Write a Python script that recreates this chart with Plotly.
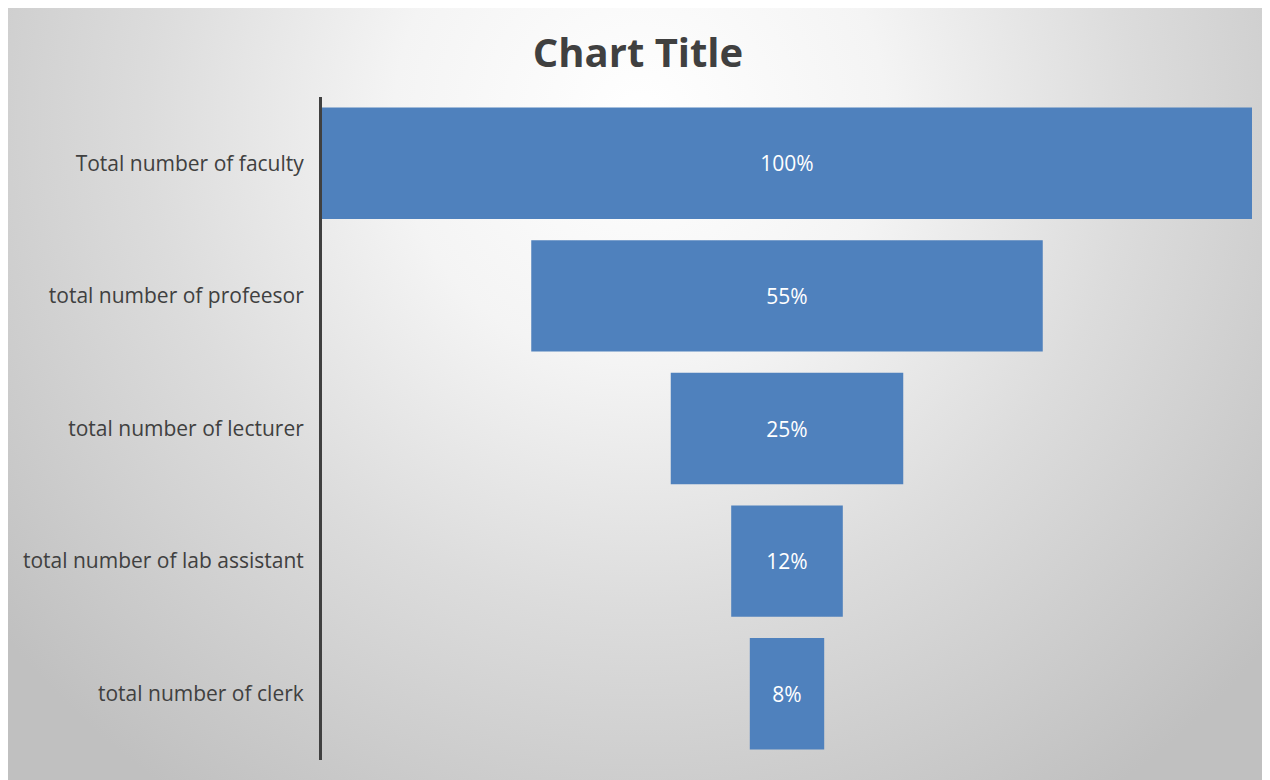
import base64
import plotly.graph_objects as go

categories = [
    "Total number of faculty",
    "total number of profeesor",
    "total number of lecturer",
    "total number of lab assistant",
    "total number of clerk",
]
values = [100, 55, 25, 12, 8]
labels = ["100%", "55%", "25%", "12%", "8%"]

W, H = 1270, 780
ml, mr, mt, mb = 314, 26, 89, 28
pw, ph = W - ml - mr, H - mt - mb

svg = f'''<svg xmlns="http://www.w3.org/2000/svg" width="{W}" height="{H}">
<defs><radialGradient id="g" gradientUnits="userSpaceOnUse" cx="632" cy="110" r="820">
<stop offset="0" stop-color="#ffffff"/>
<stop offset="0.3" stop-color="#f4f4f4"/>
<stop offset="0.6" stop-color="#dcdcdc"/>
<stop offset="1" stop-color="#c0c0c0"/>
</radialGradient></defs>
<rect width="{W}" height="{H}" fill="url(#g)"/>
</svg>'''
src = "data:image/svg+xml;base64," + base64.b64encode(svg.encode()).decode()

fig = go.Figure(go.Funnel(
    y=categories,
    x=values,
    text=labels,
    textinfo="text",
    textposition="inside",
    insidetextanchor="middle",
    textfont=dict(color="white", size=21, family="Open Sans"),
    marker=dict(color="#4f81bd", line=dict(width=0)),
    connector=dict(visible=False),
    hoverinfo="y+x",
))

fig.update_layout(
    width=W, height=H,
    margin=dict(l=ml, r=mr, t=mt, b=mb),
    paper_bgcolor="rgba(0,0,0,0)",
    plot_bgcolor="rgba(0,0,0,0)",
    title=dict(text="<b>Chart Title</b>", x=630 / W, xref="container", xanchor="center",
               y=1 - 45 / H, yref="container", yanchor="middle",
               font=dict(size=40, color="#404040", family="Open Sans")),
    funnelgap=0.16,
    showlegend=False,
    font=dict(family="Open Sans", color="#404040"),
    images=[dict(source=src, xref="paper", yref="paper",
                 x=-ml / pw, y=1 + mt / ph, sizex=W / pw, sizey=H / ph,
                 xanchor="left", yanchor="top", sizing="stretch", layer="below")],
)
fig.update_xaxes(visible=False, range=[-50, 50], fixedrange=True)
fig.update_yaxes(showline=True, linecolor="#404040", linewidth=3,
                 tickfont=dict(size=21, color="#404040", family="Open Sans"),
                 ticks="", ticklabelstandoff=11, showgrid=False)

fig.write_html("out.html")
